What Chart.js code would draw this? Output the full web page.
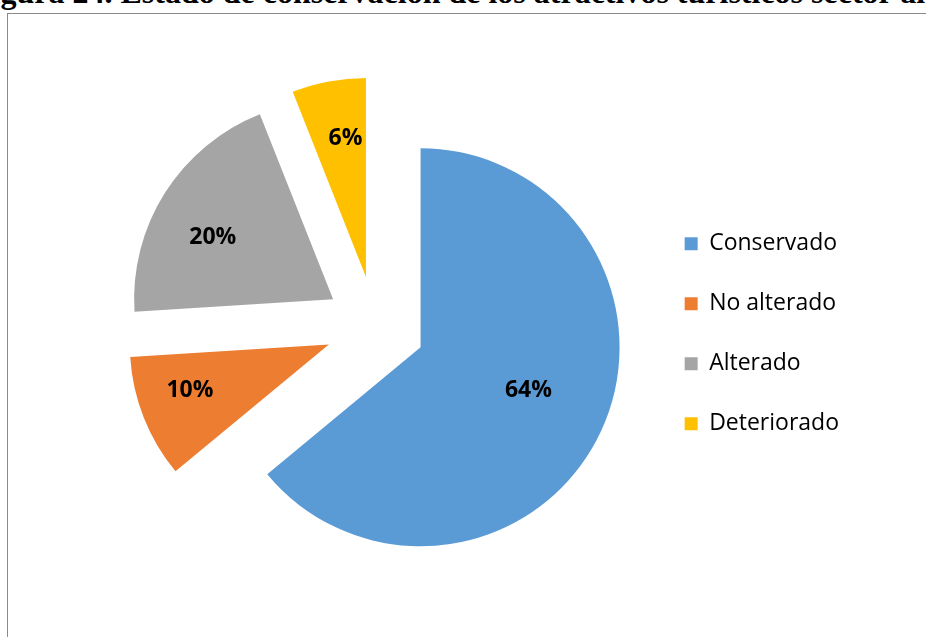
<!DOCTYPE html>
<html>
<head>
<meta charset="utf-8">
<script src="https://cdn.jsdelivr.net/npm/chart.js@4.4.1/dist/chart.umd.min.js"></script>
<style>
  html, body { margin: 0; padding: 0; background: #fff; }
  body { width: 926px; height: 637px; position: relative; overflow: hidden; }
  #caption {
    position: absolute; left: -28px; top: -24px; white-space: nowrap;
    font: bold 32px/32px "Liberation Serif", "Times New Roman", serif; color: #000;
  }
  #frame {
    position: absolute; left: 7px; top: 13px; width: 1000px; height: 700px;
    border-left: 1px solid #8a8a8a; border-top: 1px solid #8a8a8a;
  }
  #wrap { position: absolute; left: 0; top: 0; width: 926px; height: 637px; }
</style>
</head>
<body>
<div id="caption">Figura 24. Estado de conservación de los atractivos turísticos sector al</div>
<div id="frame"></div>
<div id="wrap"><canvas id="mychart" width="926" height="637"></canvas></div>
<script>
const estados = ['Conservado', 'No alterado', 'Alterado', 'Deteriorado'];
const porcentajes = [64, 10, 20, 6];
const colores = ['#5B9BD5', '#ED7D31', '#A5A5A5', '#FFC000'];

// every slice is pulled out from the centre by the same distance
const EXPLODE = 50;
// percentage label placement: distance from the slice tip (fraction of radius)
// and a small turn (degrees) away from the slice bisector
const labelDist = [0.583, 0.735, 0.68, 0.705];
const labelTurn = [-3.6, 3.4, -5.2, 2.4];

const explodedPie = {
  id: 'explodedPie',
  beforeDatasetsDraw(chart) {
    const ctx = chart.ctx;
    chart.getDatasetMeta(0).data.forEach((arc) => {
      const mid = (arc.startAngle + arc.endAngle) / 2;
      ctx.save();
      ctx.translate(Math.cos(mid) * EXPLODE, Math.sin(mid) * EXPLODE);
      arc.draw(ctx);
      ctx.restore();
    });
    return false;
  },
  // datasets draw is cancelled above, so the percentages go in afterDraw
  afterDraw(chart) {
    const ctx = chart.ctx;
    ctx.save();
    ctx.font = 'bold 23px "Open Sans", sans-serif';
    ctx.fillStyle = '#000';
    ctx.textAlign = 'center';
    ctx.textBaseline = 'middle';
    chart.getDatasetMeta(0).data.forEach((arc, i) => {
      const mid = (arc.startAngle + arc.endAngle) / 2;
      const tipX = arc.x + Math.cos(mid) * EXPLODE;
      const tipY = arc.y + Math.sin(mid) * EXPLODE;
      const a = mid + labelTurn[i] * Math.PI / 180;
      const d = arc.outerRadius * labelDist[i];
      ctx.fillText(porcentajes[i] + '%', tipX + Math.cos(a) * d, tipY + Math.sin(a) * d);
    });
    ctx.restore();
  }
};

const config = {
  type: 'pie',
  data: {
    labels: estados,
    datasets: [{
      data: porcentajes,
      backgroundColor: colores,
      borderWidth: 0
    }]
  },
  options: {
    responsive: false,
    animation: false,
    radius: 199,
    layout: { padding: { left: 103, right: 77, top: 15, bottom: 0 } },
    plugins: {
      tooltip: { enabled: false },
      legend: {
        position: 'right',
        title: { display: true, text: '', padding: 0, font: { size: 13 } },
        labels: {
          boxWidth: 13,
          boxHeight: 13,
          padding: 37,
          color: '#000',
          font: { family: '"Open Sans", sans-serif', size: 23 }
        }
      }
    }
  },
  plugins: [explodedPie]
};

new Chart(document.getElementById('mychart'), config);
</script>
</body>
</html>
